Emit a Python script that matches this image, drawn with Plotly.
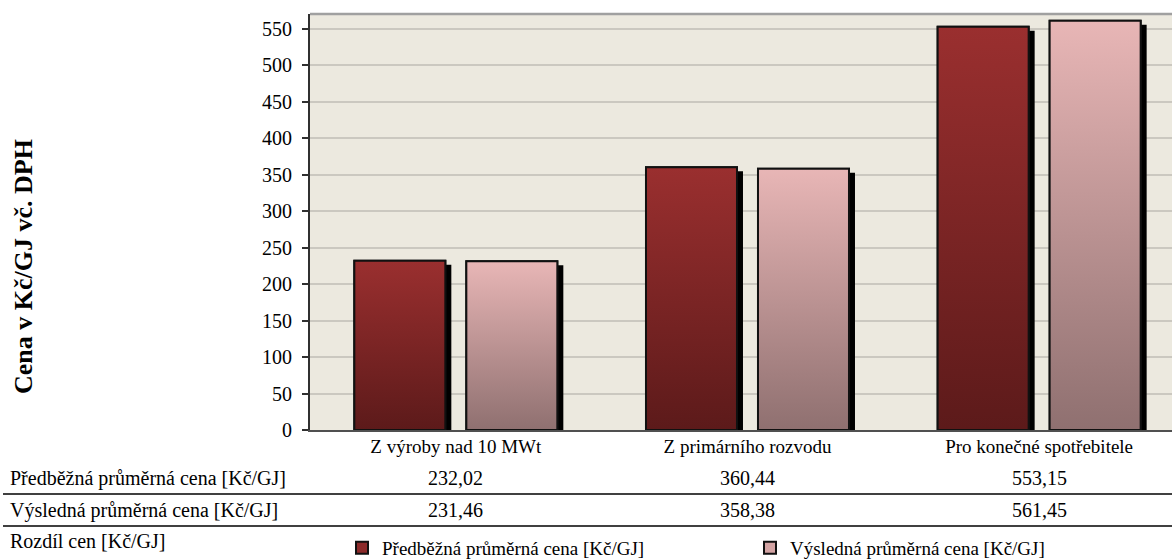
import plotly.graph_objects as go

# --- data -----------------------------------------------------------------
categories = ["Z výroby nad 10 MWt", "Z primárního rozvodu", "Pro konečné spotřebitele"]
series_names = ["Předběžná průměrná cena [Kč/GJ]", "Výsledná průměrná cena [Kč/GJ]"]
predbezna = [232.02, 360.44, 553.15]
vysledna = [231.46, 358.38, 561.45]
table_rows = ["Předběžná průměrná cena [Kč/GJ]", "Výsledná průměrná cena [Kč/GJ]", "Rozdíl cen [Kč/GJ]"]
y_ticks = [0, 50, 100, 150, 200, 250, 300, 350, 400, 450, 500, 550]
y_title = "Cena v Kč/GJ vč. DPH"

# --- layout constants -----------------------------------------------------
W, H = 1172, 560
ML, MR, MT, MB = 310, 0, 14, 130
PW, PH = W - ML - MR, H - MT - MB
FONT = "Liberation Serif, Times New Roman, serif"

X_RANGE = [-0.5, 2.4555]
Y_RANGE = [0, 570.6]
px_per_x = PW / (X_RANGE[1] - X_RANGE[0])
px_per_y = PH / (Y_RANGE[1] - Y_RANGE[0])

BAR_W = 0.312
BAR_GAP = 0.072
offsets = [-(BAR_W + BAR_GAP / 2), BAR_GAP / 2]
SHADOW_DX = 6 / px_per_x
SHADOW_DY = 4 / px_per_y

solid = ["#8c2a2a", "#d4a4a4"]
gradients = [
    [[0, "#5c1a1a"], [1, "#9a2f2f"]],
    [[0, "#8f7070"], [1, "#e8b6b6"]],
]


def px_x(px):
    return (px - ML) / PW


def px_y(py):
    return (H - MB - py) / PH


xs = list(range(len(categories)))
series = [predbezna, vysledna]

fig = go.Figure()

# drop shadows behind each bar
for s, vals in enumerate(series):
    fig.add_trace(go.Bar(
        x=xs, y=[v - SHADOW_DY for v in vals], offset=offsets[s] + SHADOW_DX,
        width=BAR_W, marker=dict(color="#000000", line=dict(width=0)),
        showlegend=False, hoverinfo="skip",
    ))

# main bars (also provide the legend entries)
for s, vals in enumerate(series):
    fig.add_trace(go.Bar(
        x=xs, y=vals, offset=offsets[s], width=BAR_W, name=series_names[s],
        marker=dict(color=solid[s], line=dict(color="#111111", width=2)),
    ))

# gradient fill on top of each bar
for s, vals in enumerate(series):
    for i, v in enumerate(vals):
        x0 = xs[i] + offsets[s]
        x1 = x0 + BAR_W
        fig.add_trace(go.Scatter(
            x=[x0, x0, x1, x1, x0], y=[0, v, v, 0, 0], mode="lines",
            fill="toself", fillgradient=dict(type="vertical", colorscale=gradients[s]),
            line=dict(color="#111111", width=2),
            showlegend=False, hoverinfo="skip",
        ))

annotations = []
shapes = []

# data table under the chart
row_y = [478, 510, 541]
for r, label in enumerate(table_rows):
    annotations.append(dict(
        text=label, xref="paper", yref="paper", x=px_x(8), y=px_y(row_y[r]),
        xanchor="left", yanchor="middle", showarrow=False,
        font=dict(family=FONT, size=20, color="#000000"),
    ))
for r, vals in enumerate(series):
    for i, v in enumerate(vals):
        annotations.append(dict(
            text=f"{v:.2f}".replace(".", ","), xref="x", yref="paper",
            x=xs[i], y=px_y(row_y[r]), xanchor="center", yanchor="middle",
            showarrow=False, font=dict(family=FONT, size=20, color="#000000"),
        ))
for ly in [494, 526]:
    shapes.append(dict(
        type="line", xref="paper", yref="paper", x0=px_x(3), x1=px_x(W),
        y0=px_y(ly), y1=px_y(ly), line=dict(color="#000000", width=1.5),
    ))

# top border of the plot area
shapes.append(dict(
    type="line", xref="paper", yref="paper", x0=0, x1=1, y0=1, y1=1,
    line=dict(color="#a0a0a0", width=2.5),
))

# vertical axis title
annotations.append(dict(
    text=f"<b>{y_title}</b>", xref="paper", yref="paper", x=px_x(23), y=px_y(267),
    xanchor="center", yanchor="middle", textangle=-90, showarrow=False,
    font=dict(family=FONT, size=26, color="#000000"),
))

fig.update_layout(
    width=W, height=H,
    margin=dict(l=ML, r=MR, t=MT, b=MB, pad=0, autoexpand=False),
    paper_bgcolor="#ffffff", plot_bgcolor="#ece9df",
    barmode="overlay",
    font=dict(family=FONT, size=20, color="#000000"),
    xaxis=dict(
        range=X_RANGE, tickmode="array", tickvals=xs, ticktext=categories,
        showgrid=False, zeroline=False, showline=True, linecolor="#505050",
        linewidth=2, ticks="", tickfont=dict(family=FONT, size=19),
        ticklabelstandoff=-2, fixedrange=True, automargin=False,
    ),
    yaxis=dict(
        range=Y_RANGE, tickmode="array", tickvals=y_ticks,
        showgrid=True, gridcolor="#cbc8c0", gridwidth=1.5, zeroline=False,
        showline=True, linecolor="#303030", linewidth=2,
        ticks="outside", ticklen=6, tickcolor="#303030", tickwidth=1.5,
        ticklabelstandoff=6, tickfont=dict(family=FONT, size=20),
        fixedrange=True, automargin=False,
    ),
    legend=dict(
        orientation="h", x=px_x(342), y=px_y(567), xanchor="left", yanchor="bottom",
        font=dict(family=FONT, size=19), entrywidth=363, entrywidthmode="pixels",
        bgcolor="rgba(0,0,0,0)", borderwidth=0, tracegroupgap=0,
        itemclick=False, itemdoubleclick=False,
    ),
    annotations=annotations,
    shapes=shapes,
)

fig.write_html("out.html")
